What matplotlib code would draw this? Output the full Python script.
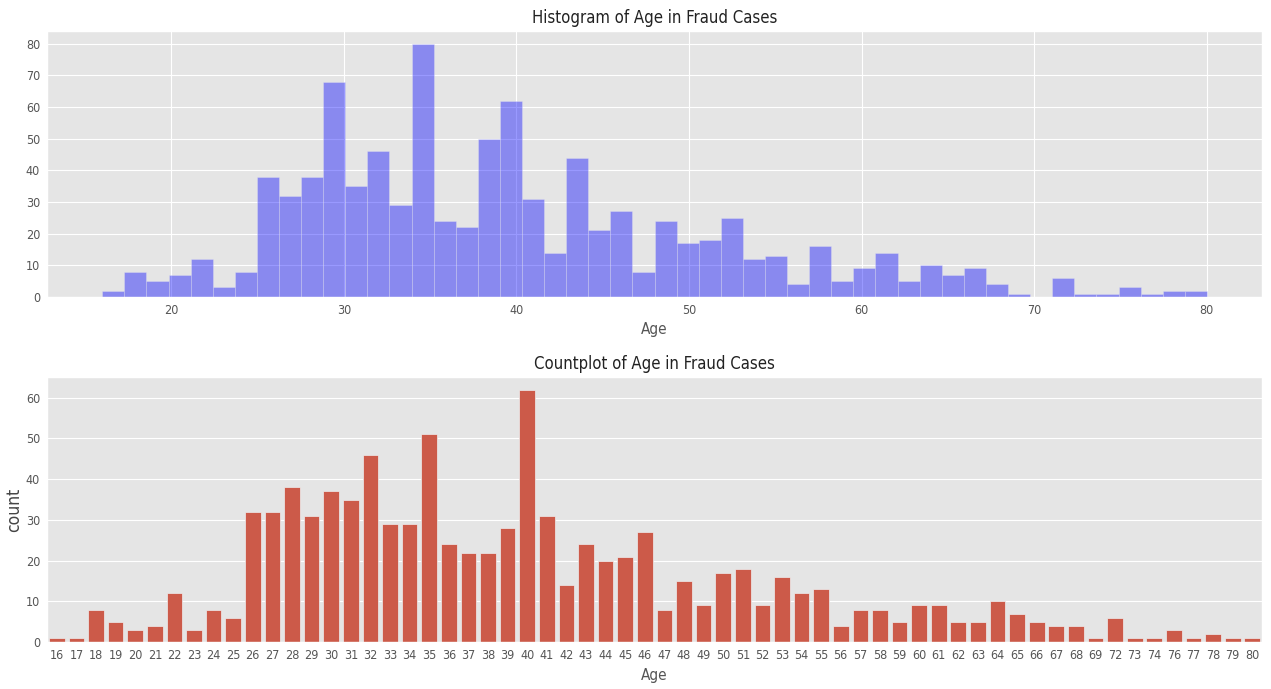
import numpy as np
import matplotlib
matplotlib.use("Agg")
import matplotlib.pyplot as plt
import seaborn as sns

# Age values and how many fraud cases have each age
ages = [16, 17, 18, 19, 20, 21, 22, 23, 24, 25, 26, 27, 28, 29, 30, 31, 32, 33, 34, 35,
        36, 37, 38, 39, 40, 41, 42, 43, 44, 45, 46, 47, 48, 49, 50, 51, 52, 53, 54, 55,
        56, 57, 58, 59, 60, 61, 62, 63, 64, 65, 66, 67, 68, 69, 72, 73, 74, 76, 77, 78,
        79, 80]
counts = [1, 1, 8, 5, 3, 4, 12, 3, 8, 6, 32, 32, 38, 31, 37, 35, 46, 29, 29, 51,
          24, 22, 22, 28, 62, 31, 14, 24, 20, 21, 27, 8, 15, 9, 17, 18, 9, 16, 12, 13,
          4, 8, 8, 5, 9, 9, 5, 5, 10, 7, 5, 4, 4, 1, 6, 1, 1, 3, 1, 2,
          1, 1]

plt.style.use("ggplot")
plt.rcParams["font.family"] = ["DejaVu Sans"]
plt.rcParams["font.stretch"] = "condensed"

fig = plt.figure(figsize=(12.71, 6.89), dpi=100)
ax1 = fig.add_axes([0.037, 0.569, 0.956, 0.386])
ax2 = fig.add_axes([0.037, 0.068, 0.956, 0.385])

# Histogram
ax1.hist(ages, bins=50, weights=counts, color="blue", alpha=0.4,
         edgecolor="#EEEEEE", linewidth=0.5)
ax1.set_title("Histogram of Age in Fraud Cases", fontsize=12, color="#222222")
ax1.set_xlabel("Age", fontsize=11, color="#555555")
ax1.tick_params(length=0, labelsize=9, colors="#555555", pad=5)

# Countplot
bar_color = sns.desaturate("#E24A33", 0.75)
pos = np.arange(len(ages))
ax2.bar(pos, counts, width=0.8, color=bar_color, edgecolor="#EEEEEE", linewidth=0.5)
ax2.set_xticks(pos)
ax2.set_xticklabels([str(a) for a in ages])
ax2.set_xlim(-0.5, len(ages) - 0.5)
ax2.grid(axis="x", visible=False)
ax2.set_title("Countplot of Age in Fraud Cases", fontsize=12, color="#222222")
ax2.set_xlabel("Age", fontsize=11, color="#555555")
ax2.set_ylabel("count", fontsize=12.5, color="#444444", labelpad=2)
ax2.tick_params(length=0, labelsize=9, colors="#555555", pad=5)

fig.savefig("out.png", dpi=100)
